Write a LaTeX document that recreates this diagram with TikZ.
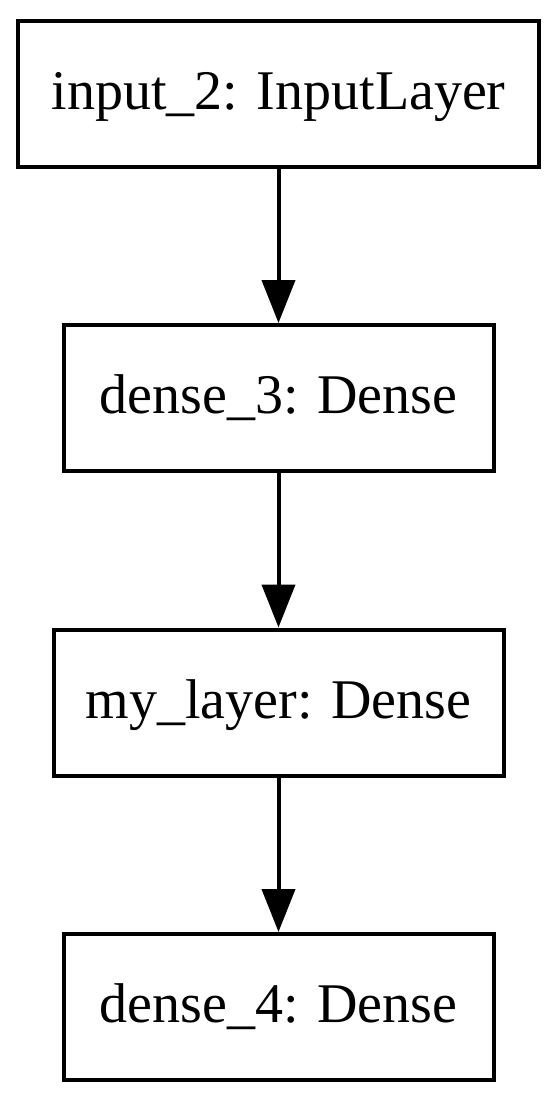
\documentclass[tikz,border=0pt]{standalone}
\usepackage{fontspec}
\setmainfont{Liberation Serif}
\usetikzlibrary{positioning,arrows.meta}

\begin{document}
\begin{tikzpicture}[x=1pt, y=1pt, node distance=154.5pt,
    layer/.style={draw, line width=4pt, minimum height=146pt, inner sep=0pt,
        font=\fontsize{56}{67}\selectfont, text height=38pt, text depth=7pt},
    flow/.style={line width=4pt, -{Triangle[length=43pt, width=33pt]}}]
        \useasboundingbox (0,0) rectangle (558,-1100);

        \node[layer, minimum width=521pt] (input) at (278.5,-93.5) {input\_2: InputLayer};
        \node[layer, minimum width=430pt, below=of input] (dense3) {dense\_3: Dense};
        \node[layer, minimum width=450pt, below=of dense3] (mylayer) {my\_layer: Dense};
        \node[layer, minimum width=430pt, below=of mylayer] (dense4) {dense\_4: Dense};

        \draw[flow] (input) -- (dense3);
        \draw[flow] (dense3) -- (mylayer);
        \draw[flow] (mylayer) -- (dense4);
    \end{tikzpicture}
\end{document}
